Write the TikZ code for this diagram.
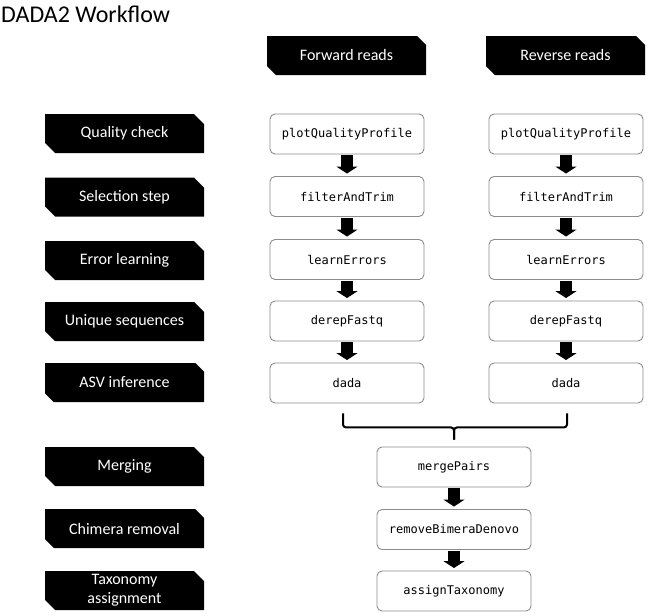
\documentclass[tikz,border=0pt]{standalone}
\usepackage{fontspec}
\setmainfont{Carlito}
\newfontfamily\codefont{DejaVu Sans Mono}
\usetikzlibrary{shapes.misc,arrows.meta}
\tikzset{
  lbl/.style={chamfered rectangle, chamfered rectangle corners={north east,south west},
    chamfered rectangle xsep=7pt, fill=black, draw=none, text=white,
    minimum width=159pt, minimum height=39pt, inner sep=0pt, align=center,
    font=\fontsize{16pt}{17pt}\selectfont},
  fn/.style={draw=black!45, line width=0.9pt, rounded corners=5pt, fill=white,
    minimum width=154pt, minimum height=40pt, inner sep=0pt,
    font=\codefont\fontsize{12pt}{13pt}\selectfont},
  blk/.style={line width=12pt, -{Triangle[width=21pt,length=7pt]}, shorten <=1pt, shorten >=2.5pt},
  brc/.style={line width=2pt, rounded corners=3pt}
}
\begin{document}
\begin{tikzpicture}[x=1pt,y=-1pt]
\useasboundingbox (0,0) rectangle (649,616);
\node[anchor=base west, font=\fontsize{24pt}{26pt}\selectfont, inner sep=0pt] (title) at (1,22) {DADA2 Workflow};
% headers
\node[lbl] (fwd) at (346.5,55.5) {Forward reads};
\node[lbl] (rev) at (565.5,55.5) {Reverse reads};
% step labels
\node[lbl] (l1) at (124.5,133.5) {Quality check};
\node[lbl] (l2) at (124.5,197) {Selection step};
\node[lbl] (l3) at (124.5,260.5) {Error learning};
\node[lbl] (l4) at (124.5,321.5) {Unique sequences};
\node[lbl] (l5) at (124.5,382.5) {ASV inference};
\node[lbl] (l6) at (124.5,466.5) {Merging};
\node[lbl] (l7) at (124.5,528.5) {Chimera removal};
\node[lbl, font=\fontsize{16pt}{19pt}\selectfont] (l8) at (124.5,590.5) {Taxonomy\\assignment};
% forward column
\node[fn] (a1) at (347,134) {plotQualityProfile};
\node[fn] (a2) at (347,196.5) {filterAndTrim};
\node[fn] (a3) at (347,259.5) {learnErrors};
\node[fn] (a4) at (347,321) {derepFastq};
\node[fn] (a5) at (347,383) {dada};
% reverse column
\node[fn] (b1) at (566,134) {plotQualityProfile};
\node[fn] (b2) at (566,196.5) {filterAndTrim};
\node[fn] (b3) at (566,259.5) {learnErrors};
\node[fn] (b4) at (566,321) {derepFastq};
\node[fn] (b5) at (566,383) {dada};
% merged
\node[fn] (m1) at (454,467) {mergePairs};
\node[fn] (m2) at (454,529.5) {removeBimeraDenovo};
\node[fn] (m3) at (454,591) {assignTaxonomy};
% arrows
\draw[blk] (a1) -- (a2);
\draw[blk] (a2) -- (a3);
\draw[blk] (a3) -- (a4);
\draw[blk] (a4) -- (a5);
\draw[blk] (b1) -- (b2);
\draw[blk] (b2) -- (b3);
\draw[blk] (b3) -- (b4);
\draw[blk] (b4) -- (b5);
\draw[blk] (m1) -- (m2);
\draw[blk] (m2) -- (m3);
% brace
\coordinate (bl) at ([xshift=-4pt,yshift=-10pt]a5.south);
\coordinate (br) at ([xshift=1pt,yshift=-10pt]b5.south);
\coordinate (bm) at ([yshift=7pt]m1.north);
\draw[brc] (bl) -- ++(0,14) -| (bm);
\draw[brc] (br) -- ++(0,14) -| (bm);
\end{tikzpicture}
\end{document}
